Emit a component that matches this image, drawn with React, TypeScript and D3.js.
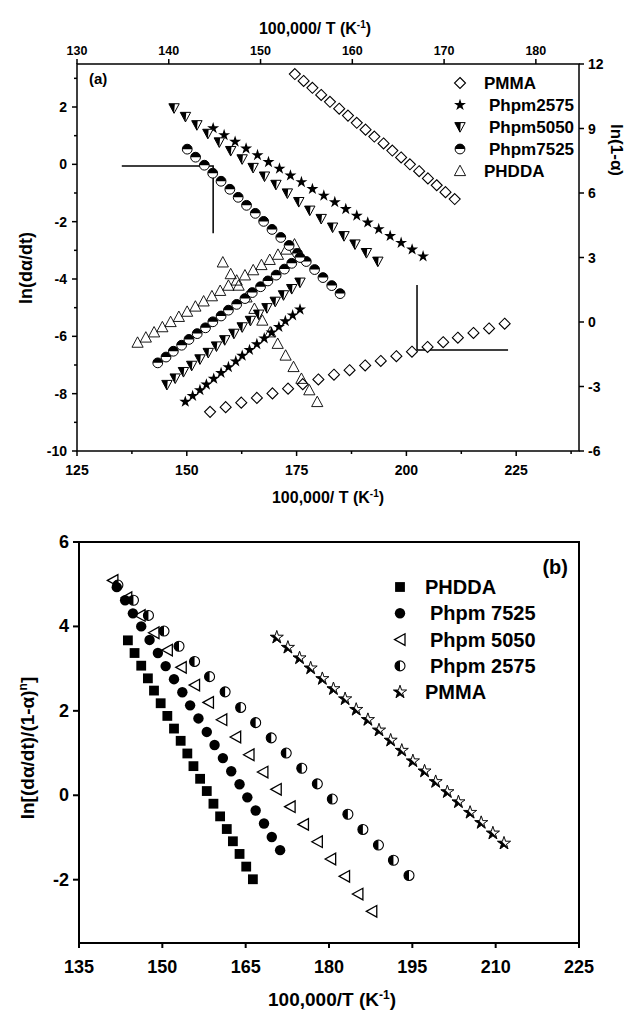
import React from 'react';
import * as d3 from 'd3';

const FONT = "'Liberation Sans', Arial, Helvetica, sans-serif";

// ---------- Panel (a): descending series, bottom x / left y ----------
const aPmmaDescX = [174.6, 176.6, 178.6, 180.6, 182.6, 184.7, 186.7, 188.7, 190.7, 192.7, 194.8, 196.8, 198.8, 200.8, 202.9, 204.9, 206.9, 208.9, 211.0];
const aPmmaDescY = [3.15, 2.91, 2.67, 2.42, 2.18, 1.94, 1.70, 1.45, 1.21, 0.97, 0.73, 0.48, 0.24, 0.00, -0.24, -0.49, -0.73, -0.97, -1.21];
const a2575DescX = [156.0, 158.5, 161.0, 163.5, 166.1, 168.6, 171.1, 173.6, 176.1, 178.6, 181.2, 183.7, 186.2, 188.7, 191.2, 193.7, 196.3, 198.8, 201.3, 203.8];
const a2575DescY = [1.26, 1.02, 0.79, 0.55, 0.32, 0.08, -0.15, -0.39, -0.62, -0.86, -1.09, -1.32, -1.56, -1.79, -2.03, -2.26, -2.50, -2.74, -2.97, -3.21];
const a5050DescX = [147.1, 149.7, 152.3, 154.8, 157.4, 160.0, 162.6, 165.1, 167.7, 170.3, 172.9, 175.5, 178.0, 180.6, 183.2, 185.8, 188.3, 190.9, 193.5];
const a5050DescY = [1.96, 1.66, 1.37, 1.07, 0.77, 0.47, 0.18, -0.12, -0.42, -0.71, -1.01, -1.31, -1.61, -1.90, -2.20, -2.50, -2.79, -3.09, -3.39];
const a7525DescX = [150.1, 152.0, 154.0, 155.9, 157.8, 159.8, 161.7, 163.6, 165.6, 167.5, 169.4, 171.4, 173.3, 175.2, 177.2, 179.1, 181.0, 183.0, 184.9];
const a7525DescY = [0.53, 0.25, -0.03, -0.31, -0.59, -0.87, -1.15, -1.43, -1.71, -1.99, -2.27, -2.55, -2.83, -3.11, -3.39, -3.67, -3.95, -4.23, -4.51];
const aPhddaDescX = [158.2, 160.0, 161.8, 163.6, 165.4, 167.2, 169.0, 170.7, 172.5, 174.3, 176.1, 177.9, 179.7];
const aPhddaDescY = [-3.42, -3.83, -4.23, -4.64, -5.04, -5.45, -5.86, -6.26, -6.67, -7.07, -7.48, -7.88, -8.29];

// ---------- Panel (a): ascending series, top x / right y ----------
const aPhddaAscX = [136.6, 137.5, 138.4, 139.3, 140.2, 141.1, 142.0, 142.9, 143.8, 144.7, 145.6, 146.5, 147.4, 148.3, 149.2, 150.1, 151.0, 151.9, 152.8, 153.7];
const aPhddaAscY = [-0.96, -0.72, -0.48, -0.24, 0.00, 0.24, 0.48, 0.72, 0.96, 1.20, 1.45, 1.69, 1.93, 2.17, 2.41, 2.65, 2.89, 3.13, 3.37, 3.61];
const a7525AscX = [138.8, 139.7, 140.5, 141.4, 142.2, 143.1, 144.0, 144.8, 145.7, 146.5, 147.4, 148.3, 149.1, 150.0, 150.8, 151.7, 152.6, 153.4, 154.3];
const a7525AscY = [-1.90, -1.63, -1.36, -1.08, -0.81, -0.54, -0.27, 0.01, 0.28, 0.55, 0.82, 1.09, 1.37, 1.64, 1.91, 2.18, 2.46, 2.73, 3.00];
const a5050AscX = [139.8, 140.7, 141.6, 142.5, 143.4, 144.3, 145.2, 146.1, 147.1, 148.0, 148.9, 149.8, 150.7, 151.6, 152.5, 153.4, 154.3];
const a5050AscY = [-2.92, -2.62, -2.32, -2.03, -1.73, -1.43, -1.13, -0.84, -0.54, -0.24, 0.06, 0.35, 0.65, 0.95, 1.25, 1.54, 1.84];
const a2575AscX = [141.8, 142.6, 143.4, 144.1, 144.9, 145.7, 146.5, 147.3, 148.0, 148.8, 149.6, 150.4, 151.2, 152.0, 152.7, 153.5, 154.3];
const a2575AscY = [-3.71, -3.44, -3.17, -2.91, -2.64, -2.37, -2.10, -1.83, -1.57, -1.30, -1.03, -0.76, -0.49, -0.23, 0.04, 0.31, 0.58];
const aPmmaAscX = [144.5, 146.2, 147.9, 149.6, 151.3, 153.0, 154.6, 156.3, 158.0, 159.7, 161.4, 163.1, 164.8, 166.5, 168.2, 169.9, 171.5, 173.2, 174.9, 176.6];
const aPmmaAscY = [-4.18, -3.96, -3.75, -3.53, -3.32, -3.10, -2.89, -2.67, -2.45, -2.24, -2.02, -1.81, -1.59, -1.38, -1.16, -0.94, -0.73, -0.51, -0.30, -0.08];

// guide lines (a)
const aGuideLB = [[135.2, -0.06], [156.0, -0.06], [156.0, -2.4]];
const aGuideTR = [[167.05, 1.72], [167.05, -1.30], [176.97, -1.30]];

// ---------- Panel (b) ----------
const bPhddaX = [143.8, 145.0, 146.2, 147.4, 148.5, 149.7, 150.9, 152.1, 153.3, 154.5, 155.6, 156.8, 158.0, 159.2, 160.4, 161.6, 162.7, 163.9, 165.1, 166.3];
const bPhddaY = [3.67, 3.37, 3.07, 2.77, 2.48, 2.18, 1.88, 1.58, 1.29, 0.99, 0.69, 0.39, 0.10, -0.20, -0.50, -0.80, -1.09, -1.39, -1.69, -1.99];
const b7525X = [141.8, 143.3, 144.7, 146.2, 147.7, 149.2, 150.6, 152.1, 153.6, 155.0, 156.5, 158.0, 159.4, 160.9, 162.4, 163.9, 165.3, 166.8, 168.3, 169.7, 171.2];
const b7525Y = [4.93, 4.62, 4.31, 4.00, 3.68, 3.37, 3.06, 2.75, 2.44, 2.13, 1.82, 1.50, 1.19, 0.88, 0.57, 0.26, -0.05, -0.36, -0.67, -0.99, -1.30];
const b5050X = [141.1, 143.6, 146.0, 148.5, 150.9, 153.4, 155.8, 158.3, 160.7, 163.2, 165.6, 168.1, 170.5, 173.0, 175.4, 177.9, 180.3, 182.8, 185.2, 187.7];
const b5050Y = [5.09, 4.68, 4.26, 3.85, 3.44, 3.03, 2.61, 2.20, 1.79, 1.38, 0.96, 0.55, 0.14, -0.27, -0.69, -1.10, -1.51, -1.92, -2.34, -2.75];
const b2575X = [142.0, 144.8, 147.5, 150.3, 153.0, 155.8, 158.5, 161.3, 164.1, 166.8, 169.6, 172.3, 175.1, 177.9, 180.6, 183.4, 186.1, 188.9, 191.6, 194.4];
const b2575Y = [4.98, 4.62, 4.26, 3.89, 3.53, 3.17, 2.81, 2.45, 2.08, 1.72, 1.36, 1.00, 0.64, 0.27, -0.09, -0.45, -0.81, -1.18, -1.54, -1.90];
const bPmmaX = [170.6, 172.6, 174.7, 176.7, 178.8, 180.8, 182.9, 184.9, 187.0, 189.0, 191.1, 193.1, 195.1, 197.2, 199.2, 201.3, 203.3, 205.4, 207.4, 209.5, 211.5];
const bPmmaY = [3.74, 3.50, 3.25, 3.01, 2.76, 2.52, 2.28, 2.03, 1.79, 1.54, 1.30, 1.06, 0.81, 0.57, 0.32, 0.08, -0.16, -0.41, -0.65, -0.90, -1.14];

// ticks
const aBottomTicks = [125, 150, 175, 200, 225];
const aBottomMinor = [137.5, 162.5, 187.5, 212.5, 237.5];
const aTopTicks = [130, 140, 150, 160, 170, 180];
const aLeftTicks = [-10, -8, -6, -4, -2, 0, 2];
const aLeftMinor = [-9, -7, -5, -3, -1, 1, 3];
const aRightTicks = [-6, -3, 0, 3, 6, 9, 12];
const bBottomTicks = [135, 150, 165, 180, 195, 210, 225];
const bLeftTicks = [-2, 0, 2, 4, 6];

const aLegend = ['PMMA', ' Phpm2575', ' Phpm5050', ' Phpm7525', 'PHDDA'];
const bLegend = ['PHDDA', ' Phpm 7525', ' Phpm 5050', ' Phpm 2575', 'PMMA'];

// scales
const A = { l: 77, r: 579, t: 64, b: 451 };
const B = { l: 79, r: 579, t: 542, b: 943 };
const xA = d3.scaleLinear().domain([125, 239.3]).range([A.l, A.r]);
const yA = d3.scaleLinear().domain([-10, 3.5]).range([A.b, A.t]);
const xAt = d3.scaleLinear().domain([130, 184.7]).range([A.l, A.r]);
const yAr = d3.scaleLinear().domain([-6, 12]).range([A.b, A.t]);
const xB = d3.scaleLinear().domain([135, 225]).range([B.l, B.r]);
const yB = d3.scaleLinear().domain([-3.5, 6]).range([B.b, B.t]);

const starPath = (r: number) => d3.symbol(d3.symbolStar, (r * r) / 0.8908130915292852)() as string;

function Marker({ kind }: { kind: string }) {
  switch (kind) {
    case 'aDiamond':
      return <path d="M0,-5.5L5.5,0L0,5.5L-5.5,0Z" fill="#fff" stroke="#000" strokeWidth={1.1} />;
    case 'aStar':
      return <path d={starPath(6.3)} fill="#000" />;
    case 'aTriDownHalf':
      return (
        <g>
          <path d="M-5.2,-4.4L5.2,-4.4L0,5.2Z" fill="#fff" stroke="#000" strokeWidth={1} />
          <path d="M-5.2,-4.4L0.8,-4.4L0,5.2Z" fill="#000" />
        </g>
      );
    case 'aCircleTopHalf':
      return (
        <g>
          <circle r={4.9} fill="#fff" stroke="#000" strokeWidth={1} />
          <path d="M-4.9,0A4.9,4.9 0 0 1 4.9,0Z" fill="#000" />
        </g>
      );
    case 'aTriUp':
      return <path d="M0,-5.8L5.6,4.6L-5.6,4.6Z" fill="none" stroke="#000" strokeWidth={0.9} />;
    case 'bSquare':
      return <rect x={-4.9} y={-4.9} width={9.8} height={9.8} fill="#000" />;
    case 'bCircle':
      return <circle r={5.2} fill="#000" />;
    case 'bTriLeft':
      return <path d="M-5.5,0L5,-5.8L5,5.8Z" fill="none" stroke="#000" strokeWidth={1.3} />;
    case 'bCircleLeftHalf':
      return (
        <g>
          <circle r={5} fill="#fff" stroke="#000" strokeWidth={1.1} />
          <path d="M0,-5A5,5 0 0 0 0,5Z" fill="#000" />
        </g>
      );
    case 'bStar':
      return (
        <g>
          <path d={starPath(6.8)} fill="#000" stroke="#000" strokeWidth={0.6} />
          <path d={starPath(6.8)} fill="#fff" clipPath="url(#clipTopRight)" />
          <path d={starPath(6.8)} fill="none" stroke="#000" strokeWidth={0.8} />
        </g>
      );
    default:
      return null;
  }
}

type Series = { xs: number[]; ys: number[]; sx: any; sy: any; kind: string };

const aSeries: Series[] = [
  { xs: aPmmaDescX, ys: aPmmaDescY, sx: xA, sy: yA, kind: 'aDiamond' },
  { xs: aPmmaAscX, ys: aPmmaAscY, sx: xAt, sy: yAr, kind: 'aDiamond' },
  { xs: aPhddaDescX, ys: aPhddaDescY, sx: xA, sy: yA, kind: 'aTriUp' },
  { xs: aPhddaAscX, ys: aPhddaAscY, sx: xAt, sy: yAr, kind: 'aTriUp' },
  { xs: a2575DescX, ys: a2575DescY, sx: xA, sy: yA, kind: 'aStar' },
  { xs: a2575AscX, ys: a2575AscY, sx: xAt, sy: yAr, kind: 'aStar' },
  { xs: a5050DescX, ys: a5050DescY, sx: xA, sy: yA, kind: 'aTriDownHalf' },
  { xs: a5050AscX, ys: a5050AscY, sx: xAt, sy: yAr, kind: 'aTriDownHalf' },
  { xs: a7525DescX, ys: a7525DescY, sx: xA, sy: yA, kind: 'aCircleTopHalf' },
  { xs: a7525AscX, ys: a7525AscY, sx: xAt, sy: yAr, kind: 'aCircleTopHalf' },
];

const bSeries: Series[] = [
  { xs: bPhddaX, ys: bPhddaY, sx: xB, sy: yB, kind: 'bSquare' },
  { xs: b2575X, ys: b2575Y, sx: xB, sy: yB, kind: 'bCircleLeftHalf' },
  { xs: b5050X, ys: b5050Y, sx: xB, sy: yB, kind: 'bTriLeft' },
  { xs: b7525X, ys: b7525Y, sx: xB, sy: yB, kind: 'bCircle' },
  { xs: bPmmaX, ys: bPmmaY, sx: xB, sy: yB, kind: 'bStar' },
];

function renderSeries(list: Series[], prefix: string) {
  return list.map((s, i) => (
    <g key={prefix + i}>
      {s.xs.map((x, j) => (
        <g key={j} transform={`translate(${s.sx(x)},${s.sy(s.ys[j])})`}>
          <Marker kind={s.kind} />
        </g>
      ))}
    </g>
  ));
}

const guideLine = d3.line<number[]>();

export default function App() {
  const aLegendKinds = ['aDiamond', 'aStar', 'aTriDownHalf', 'aCircleTopHalf', 'aTriUp'];
  const bLegendKinds = ['bSquare', 'bCircle', 'bTriLeft', 'bCircleLeftHalf', 'bStar'];
  return (
    <svg
      width={635}
      height={1010}
      style={{ position: 'absolute', left: 0, top: 0, background: '#fff' }}
      fontFamily={FONT}
      fontWeight="bold"
    >
      <defs>
        <clipPath id="clipTopRight">
          <polygon points="-12,-12 12,-12 12,12" />
        </clipPath>
      </defs>

      {/* ---------------- Panel (a) ---------------- */}
      <g stroke="#000" strokeWidth={1.5} fill="none">
        <rect x={A.l} y={A.t} width={A.r - A.l} height={A.b - A.t} />
        {aBottomTicks.map((t) => (
          <line key={'ab' + t} x1={xA(t)} x2={xA(t)} y1={A.b} y2={A.b + 5} />
        ))}
        {aBottomMinor.map((t) => (
          <line key={'abm' + t} x1={xA(t)} x2={xA(t)} y1={A.b} y2={A.b + 3} />
        ))}
        {aTopTicks.map((t) => (
          <line key={'at' + t} x1={xAt(t)} x2={xAt(t)} y1={A.t} y2={A.t - 5} />
        ))}
        {aLeftTicks.map((t) => (
          <line key={'al' + t} x1={A.l} x2={A.l - 5} y1={yA(t)} y2={yA(t)} />
        ))}
        {aLeftMinor.map((t) => (
          <line key={'alm' + t} x1={A.l} x2={A.l - 3} y1={yA(t)} y2={yA(t)} />
        ))}
        {aRightTicks.map((t) => (
          <line key={'ar' + t} x1={A.r} x2={A.r + 5} y1={yAr(t)} y2={yAr(t)} />
        ))}
      </g>
      <g fontSize={14} fill="#000">
        {aBottomTicks.map((t) => (
          <text key={'abt' + t} x={xA(t)} y={A.b + 24} textAnchor="middle">{t}</text>
        ))}
        {aLeftTicks.map((t) => (
          <text key={'alt' + t} x={A.l - 10} y={yA(t) + 5} textAnchor="end">{t}</text>
        ))}
        {aRightTicks.map((t) => (
          <text key={'art' + t} x={A.r + 9} y={yAr(t) + 5} textAnchor="start">{t}</text>
        ))}
      </g>
      <g fontSize={12.5} fill="#000">
        {aTopTicks.map((t) => (
          <text key={'att' + t} x={xAt(t)} y={A.t - 9} textAnchor="middle">{t}</text>
        ))}
      </g>
      <text x={315} y={34} fontSize={16} textAnchor="middle">
        100,000/ T (K<tspan dy={-6} fontSize={10}>-1</tspan><tspan dy={6}>)</tspan>
      </text>
      <text x={328} y={503} fontSize={16} textAnchor="middle">
        100,000/ T (K<tspan dy={-6} fontSize={10}>-1</tspan><tspan dy={6}>)</tspan>
      </text>
      <text transform="translate(32,268) rotate(-90)" fontSize={18} textAnchor="middle">ln(dα/dt)</text>
      <text transform="translate(611,150) rotate(90)" fontSize={17} textAnchor="middle">ln(1-α)</text>
      <text x={89} y={84} fontSize={15}>(a)</text>

      <path d={guideLine(aGuideLB.map((p) => [xA(p[0]), yA(p[1])])) as string} fill="none" stroke="#000" strokeWidth={1.5} />
      <path d={guideLine(aGuideTR.map((p) => [xAt(p[0]), yAr(p[1])])) as string} fill="none" stroke="#000" strokeWidth={1.5} />

      {renderSeries(aSeries, 'a')}

      {aLegend.map((name, i) => (
        <g key={'alg' + i}>
          <g transform={`translate(460,${83 + i * 22})`}>
            <Marker kind={aLegendKinds[i]} />
          </g>
          <text x={name.startsWith(' ') ? 489 : 484} y={83 + i * 22 + 6} fontSize={17}>{name.trim()}</text>
        </g>
      ))}

      {/* ---------------- Panel (b) ---------------- */}
      <g stroke="#000" strokeWidth={2} fill="none">
        <rect x={B.l} y={B.t} width={B.r - B.l} height={B.b - B.t} />
        {bBottomTicks.map((t) => (
          <line key={'bb' + t} x1={xB(t)} x2={xB(t)} y1={B.b} y2={B.b + 5} />
        ))}
        {bLeftTicks.map((t) => (
          <line key={'bl' + t} x1={B.l} x2={B.l - 6} y1={yB(t)} y2={yB(t)} />
        ))}
      </g>
      <g fontSize={18} fill="#000">
        {bBottomTicks.map((t) => (
          <text key={'bbt' + t} x={xB(t)} y={B.b + 30} textAnchor="middle">{t}</text>
        ))}
        {bLeftTicks.map((t) => (
          <text key={'blt' + t} x={B.l - 10} y={yB(t) + 6} textAnchor="end">{t}</text>
        ))}
      </g>
      <text x={332} y={1006} fontSize={19} textAnchor="middle">
        100,000/T (K<tspan dy={-7} fontSize={12}>-1</tspan><tspan dy={7}>)</tspan>
      </text>
      <text transform="translate(34,748) rotate(-90)" fontSize={19} textAnchor="middle">
        ln[(dα/dt)/(1-α)<tspan dy={-7} fontSize={12}>n</tspan><tspan dy={7}>]</tspan>
      </text>
      <text x={568} y={574} fontSize={20} textAnchor="end">(b)</text>

      {renderSeries(bSeries, 'b')}

      {bLegend.map((name, i) => (
        <g key={'blg' + i}>
          <g transform={`translate(400,${587 + i * 26.3})`}>
            <Marker kind={bLegendKinds[i]} />
          </g>
          <text x={name.startsWith(' ') ? 430 : 425} y={587 + i * 26.3 + 7} fontSize={20}>{name.trim()}</text>
        </g>
      ))}
    </svg>
  );
}
